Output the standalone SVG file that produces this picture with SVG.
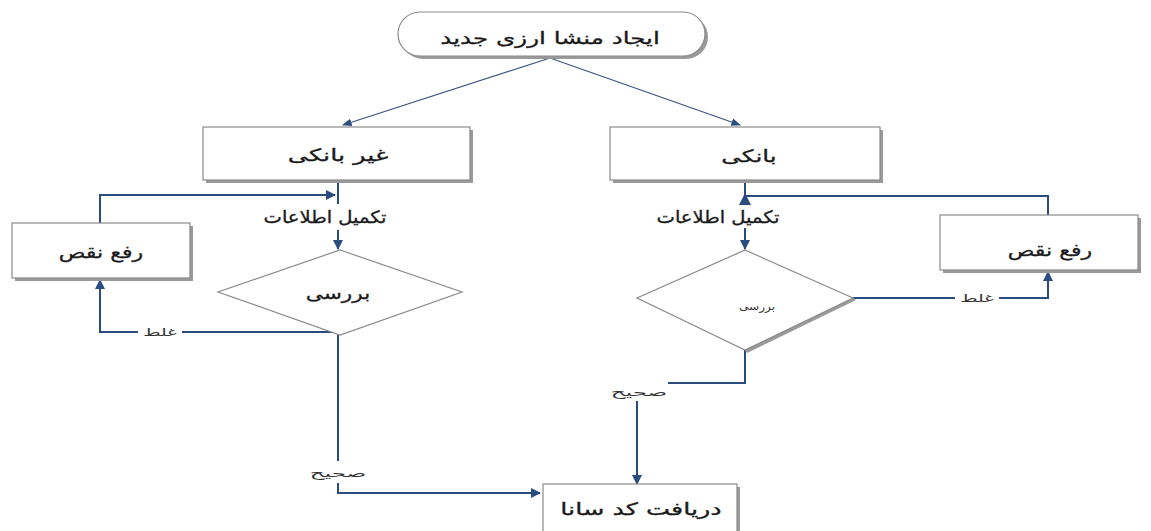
<svg xmlns="http://www.w3.org/2000/svg" width="1151" height="531" viewBox="0 0 1151 531">
<style>
.box{fill:#fff;stroke:#8a8a8a;stroke-width:1.2}
.sh{fill:#9a9a9a}
.t{font-family:"DejaVu Sans",sans-serif;font-size:17px;fill:#1a1a1a;stroke:#1a1a1a;stroke-width:0.3;text-anchor:middle;dominant-baseline:central}
.s{font-family:"DejaVu Sans",sans-serif;font-size:11px;fill:#333;text-anchor:middle;dominant-baseline:central}
.c{fill:none;stroke:#2b4c7e;stroke-width:2}
.ct{fill:none;stroke:#3a557f;stroke-width:1.2}
.lb{fill:#fff}
</style>
<defs>
<marker id="ah" viewBox="0 0 10 10" refX="9" refY="5" markerWidth="5" markerHeight="5" orient="auto" markerUnits="strokeWidth">
<path d="M0,0 L10,5 L0,10 Z" fill="#2b4c7e"/>
</marker>
<marker id="ah2" viewBox="0 0 10 10" refX="9" refY="5" markerWidth="8" markerHeight="8" orient="auto" markerUnits="strokeWidth">
<path d="M0,1 L10,5 L0,9 Z" fill="#2b4c7e"/>
</marker>
</defs>
<rect width="1151" height="531" fill="#fff"/>
<g id="connectors">
<path class="ct" d="M550,58 L343,125" marker-end="url(#ah2)"/>
<path class="ct" d="M550,58 L740,125" marker-end="url(#ah2)"/>
<path class="c" d="M338,181 L338,204"/>
<path class="c" d="M100,223 L100,195 L335,195" marker-end="url(#ah)"/>
<path class="c" d="M338,230 L338,249" marker-end="url(#ah)"/>
<path class="c" d="M333,332 L100,332 L100,280" marker-end="url(#ah)"/>
<path class="c" d="M338,335 L338,493 L540,493" marker-end="url(#ah)"/>
<path class="c" d="M745,181 L745,205"/>
<path class="c" d="M1048,215 L1048,196 L745,196"/>
<polygon points="745,193 739,205 751,205" fill="#2b4c7e"/>
<path class="c" d="M745,228 L745,249" marker-end="url(#ah)"/>
<path class="c" d="M853,298 L1048,298 L1048,272" marker-end="url(#ah)"/>
<path class="c" d="M745,350 L745,383 L668,383"/>
<path class="c" d="M637,401 L637,484" marker-end="url(#ah)"/>
<rect class="lb" x="138" y="325" width="44" height="14"/>
<text class="s" transform="translate(160 332) scale(1.7 1)">غلط</text>
<rect class="lb" x="955" y="291" width="44" height="14"/>
<text class="s" transform="translate(977 298) scale(1.7 1)">غلط</text>
<rect class="lb" x="306" y="461" width="64" height="22"/>
<text class="s" transform="translate(338 473) scale(2.1 1)">صحیح</text>
<text class="s" transform="translate(639 392) scale(2.1 1)">صحیح</text>
</g>
<g id="start">
<rect class="sh" x="401" y="15" width="307" height="44" rx="22"/>
<rect class="box" x="398" y="12" width="307" height="44" rx="22"/>
<text class="t" transform="translate(550 38) scale(1.45 1)">ایجاد منشا ارزی جدید</text>
</g>
<g id="nonbank">
<rect class="sh" x="206" y="130" width="267" height="53"/>
<rect class="box" x="203" y="127" width="267" height="53"/>
<text class="t" transform="translate(338 155) scale(1.5 1)">غیر بانکی</text>
</g>
<g id="bank">
<rect class="sh" x="613" y="130" width="270" height="53"/>
<rect class="box" x="610" y="127" width="270" height="53"/>
<text class="t" transform="translate(749 156) scale(1.45 1)">بانکی</text>
</g>
<text class="t" transform="translate(325 217) scale(1.15 1)">تکمیل اطلاعات</text>
<text class="t" transform="translate(718 217) scale(1.15 1)">تکمیل اطلاعات</text>
<g id="fix-left">
<rect class="sh" x="15" y="226" width="178" height="55"/>
<rect class="box" x="12" y="223" width="178" height="55"/>
<text class="t" transform="translate(101 252) scale(1.3 1)">رفع نقص</text>
</g>
<g id="check-left">
<polygon class="box" points="340,250 462,292 340,335 218,292"/>
<text class="t" transform="translate(338 293) scale(1.27 1)">بررسی</text>
</g>
<g id="fix-right">
<rect class="sh" x="943" y="218" width="198" height="55"/>
<rect class="box" x="940" y="215" width="198" height="55"/>
<text class="t" transform="translate(1050 250) scale(1.3 1)">رفع نقص</text>
</g>
<g id="check-right">
<polygon points="853,298 745,350 747,353 856,300" fill="#9a9a9a"/>
<polygon class="box" points="745,250 853,298 745,350 637,298"/>
<text class="s" transform="translate(757 306) scale(1.1 1)">بررسی</text>
</g>
<g id="sana">
<rect class="sh" x="546" y="487" width="194" height="50"/>
<rect class="box" x="543" y="484" width="194" height="50"/>
<text class="t" transform="translate(641 509) scale(1.5 1)">دریافت کد سانا</text>
</g>
</svg>
